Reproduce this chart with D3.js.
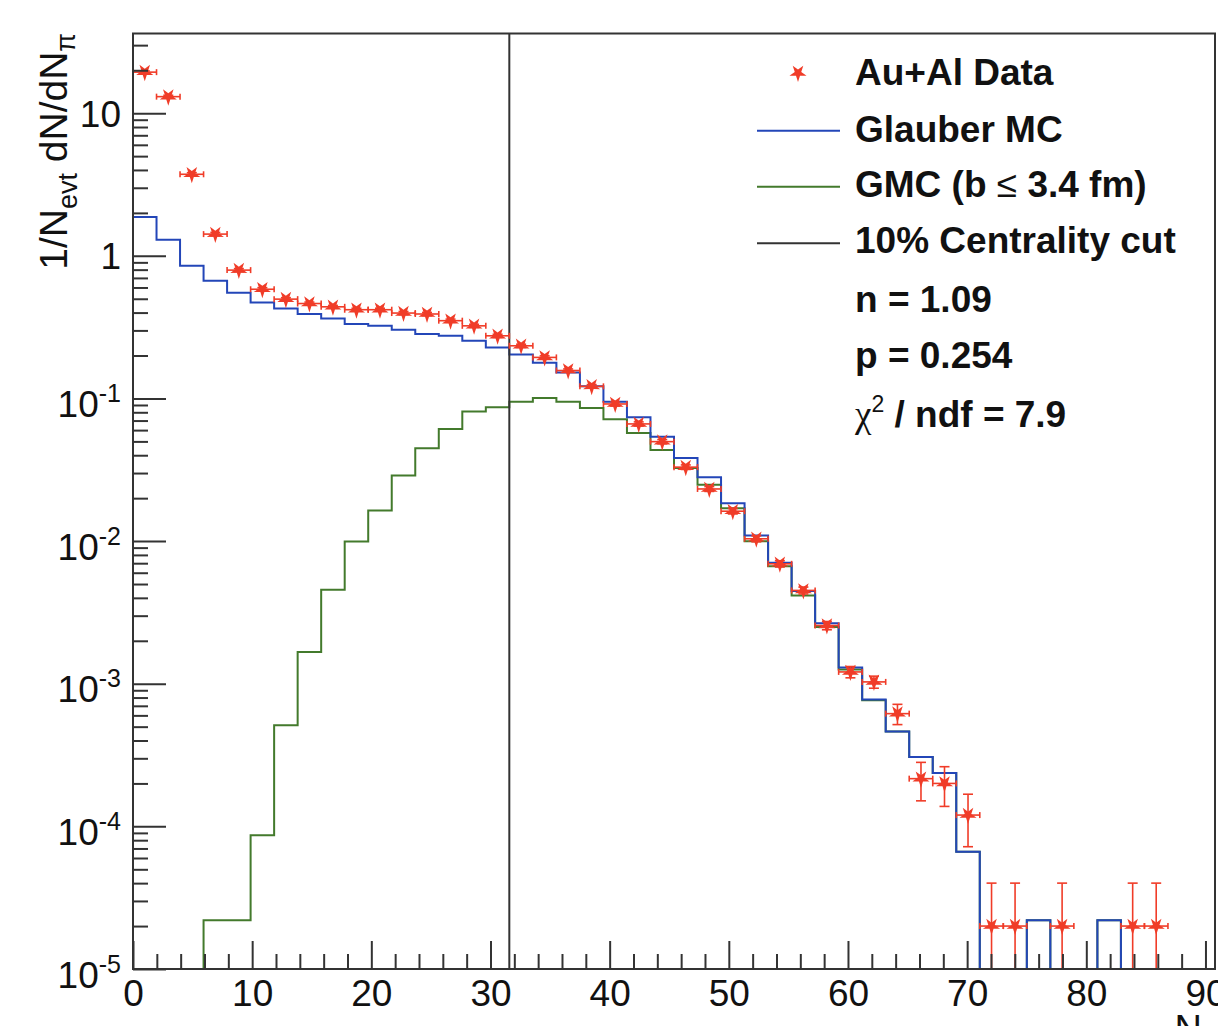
<!DOCTYPE html>
<html><head><meta charset="utf-8">
<script src="https://cdn.jsdelivr.net/npm/d3@7"></script>
<style>
body{margin:0;background:#fff;}
svg{display:block;}
text{font-family:"Liberation Sans",Arial,Helvetica,sans-serif;}
</style>
</head><body>
<svg id="chart" width="1218" height="1026"></svg>
<script>
// ---------------- data ----------------
const xDomain = [0, 90.8];
const nBins = 46;
const cutPosition = 31.58;               // 10% centrality cut (N_pi)
const glauberMC = [1.875, 1.294, 0.851, 0.668, 0.551, 0.471, 0.428, 0.391, 0.364, 0.333,
  0.323, 0.303, 0.283, 0.275, 0.254, 0.228, 0.203, 0.178, 0.152, 0.1216,
  0.0950, 0.0738, 0.0540, 0.0383, 0.0280, 0.0184, 0.01094, 0.00704, 0.00446, 0.00266,
  0.00130, 0.000774, 0.000462, 0.000307, 0.000237, 6.63e-5, 0, 0, 2.2e-5, 0,
  0, 2.2e-5, 0, 0, 0, 0];
const gmcCentral = [0, 0, 0, 2.2e-5, 2.2e-5, 8.68e-5, 5.11e-4, 1.67e-3, 4.56e-3, 9.93e-3,
  0.01637, 0.0288, 0.0447, 0.0611, 0.0809, 0.0867, 0.0950, 0.1008, 0.0950, 0.0858,
  0.0714, 0.0573, 0.0436, 0.0326, 0.0248, 0.0170, 0.00998, 0.00667, 0.00416, 0.00250,
  0.00126, 0.000765, 0.000462, 0.000307, 0.000237, 6.63e-5, 0, 0, 2.2e-5, 0,
  0, 2.2e-5, 0, 0, 0, 0];
const auAlData = [19.4, 13.06, 3.73, 1.42, 0.794, 0.583, 0.497, 0.463, 0.439, 0.419,
  0.419, 0.397, 0.391, 0.351, 0.323, 0.275, 0.234, 0.194, 0.157, 0.1216,
  0.0915, 0.0663, 0.0498, 0.0330, 0.0232, 0.0162, 0.01038, 0.00693, 0.00451, 0.00256,
  0.00121, 0.00103, 6.17e-4, 2.16e-4, 2.0e-4, 1.2e-4, 2e-5, 2e-5, 0, 2e-5,
  0, 0, 2e-5, 2e-5, 0, 0];
const auAlErr = [0.4, 0.3, 0.1, 0.04, 0.02, 0.015, 0.012, 0.011, 0.01, 0.01,
  0.01, 0.01, 0.01, 0.009, 0.008, 0.007, 0.006, 0.005, 0.004, 0.0035,
  0.003, 0.0022, 0.0017, 0.0012, 0.0009, 0.0007, 0.0005, 0.00035, 0.00025, 0.00017,
  0.00011, 0.0001, 0.0001, 6.5e-5, 6.2e-5, 4.8e-5, 2e-5, 2e-5, 0, 2e-5,
  0, 0, 2e-5, 2e-5, 0, 0];
const xTicks = [0, 10, 20, 30, 40, 50, 60, 70, 80, 90];
const xMinorTicks = [2,4,6,8,12,14,16,18,22,24,26,28,32,34,36,38,42,44,46,48,52,54,56,58,62,64,66,68,72,74,76,78,82,84,86,88];
const yTicks = [1e-5, 1e-4, 1e-3, 1e-2, 1e-1, 1, 10];
const yTickLabels = [["10","-5"],["10","-4"],["10","-3"],["10","-2"],["10","-1"],["1",""],["10",""]];
const legendEntries = ["Au+Al Data", "Glauber MC", "GMC (b \u2264 3.4 fm)", "10% Centrality cut"];
const fitParams = ["n = 1.09", "p = 0.254", "chi2"];

// ---------------- layout ----------------
const C_RED = "#f03c28", C_BLUE = "#2346b8", C_GREEN = "#437a2c", C_BLACK = "#333";
const svg = d3.select("#chart");
const x = d3.scaleLinear().domain(xDomain).range([133, 1215]);
const y = d3.scaleLog().domain([1e-5, 36.2]).range([969, 33.5]);
const binW = (xDomain[1] - xDomain[0]) / nBins;
const edges = d3.range(nBins + 1).map(i => xDomain[0] + i * binW);
const yv = v => v > 0 ? y(Math.max(v, 1e-5)) : y(1e-5);

function histPath(vals) {
  const pts = vals.map((v, i) => [edges[i], v]);
  pts.push([edges[nBins], vals[nBins - 1]]);
  return d3.line().x(d => x(d[0])).y(d => yv(d[1])).curve(d3.curveStepAfter)(pts);
}

// histograms
svg.append("path").attr("d", histPath(gmcCentral)).attr("fill", "none")
  .attr("stroke", C_GREEN).attr("stroke-width", 2);
svg.append("path").attr("d", histPath(glauberMC)).attr("fill", "none")
  .attr("stroke", C_BLUE).attr("stroke-width", 2);

// centrality cut line
svg.append("line").attr("x1", x(cutPosition)).attr("x2", x(cutPosition))
  .attr("y1", y(1e-5)).attr("y2", y(36.2)).attr("stroke", C_BLACK).attr("stroke-width", 2);

// star marker (inverted 5-point star)
function starPath(R, r) {
  const p = [];
  for (let k = 0; k < 10; k++) {
    const a = Math.PI + k * Math.PI / 5, rad = k % 2 === 0 ? R : r;
    p.push([rad * Math.sin(a), -rad * Math.cos(a)]);
  }
  return "M" + p.map(d => d[0].toFixed(2) + "," + d[1].toFixed(2)).join("L") + "Z";
}
const star = starPath(9, 3.4);

// data points
const gData = svg.append("g");
auAlData.forEach((v, i) => {
  if (!(v > 0)) return;
  const cx = x((edges[i] + edges[i + 1]) / 2), cy = y(v);
  const e = auAlErr[i];
  const g = gData.append("g").attr("stroke", C_RED).attr("stroke-width", 1.6);
  const xl = x(edges[i]), xr = x(edges[i + 1]);
  g.append("line").attr("x1", xl).attr("x2", xr).attr("y1", cy).attr("y2", cy);
  g.append("line").attr("x1", xl).attr("x2", xl).attr("y1", cy - 3).attr("y2", cy + 3);
  g.append("line").attr("x1", xr).attr("x2", xr).attr("y1", cy - 3).attr("y2", cy + 3);
  if (e > 0) {
    const yt = y(v + e), lowClamped = (v - e) <= 1e-5;
    const yb = lowClamped ? y(1e-5) : y(v - e);
    g.append("line").attr("x1", cx).attr("x2", cx).attr("y1", yt).attr("y2", yb);
    g.append("line").attr("x1", cx - 5).attr("x2", cx + 5).attr("y1", yt).attr("y2", yt);
    if (!lowClamped) g.append("line").attr("x1", cx - 5).attr("x2", cx + 5).attr("y1", yb).attr("y2", yb);
  }
  gData.append("path").attr("d", star).attr("transform", `translate(${cx},${cy})`)
    .attr("fill", C_RED).attr("stroke", "none");
});

// frame
svg.append("rect").attr("x", 133).attr("y", 33.5).attr("width", 1215 - 133).attr("height", 969 - 33.5)
  .attr("fill", "none").attr("stroke", C_BLACK).attr("stroke-width", 2);

// y axis
const yMinor = [];
for (let e = -5; e <= 1; e++) for (let k = 2; k <= 9; k++) { const t = k * Math.pow(10, e); if (t <= 36.2) yMinor.push(t); }
const yAxisMinor = svg.append("g").attr("transform", "translate(133,0)")
  .call(d3.axisLeft(y).tickValues(yMinor).tickSize(-15).tickFormat(""));
const yAxisMajor = svg.append("g").attr("transform", "translate(133,0)")
  .call(d3.axisLeft(y).tickValues(yTicks).tickSize(-33).tickPadding(12).tickFormat(""));
[yAxisMinor, yAxisMajor].forEach(g => {
  g.select(".domain").remove();
  g.selectAll("line").attr("stroke", C_BLACK).attr("stroke-width", 2);
});
yAxisMajor.selectAll(".tick text").each(function (d, i) {
  const t = d3.select(this).attr("dy", null).attr("font-size", 37)
    .attr("fill", "#111").attr("text-anchor", "end").attr("x", -12);
  const lab = yTickLabels[i];
  t.attr("y", lab[1] ? 18 : 13);
  t.append("tspan").text(lab[0]);
  if (lab[1]) t.append("tspan").attr("font-size", 25).attr("dy", -15).text(lab[1]);
});

// x axis
const xAxisMinor = svg.append("g").attr("transform", "translate(0,969)")
  .call(d3.axisBottom(x).tickValues(xMinorTicks).tickSize(-15).tickFormat(""));
const xAxisMajor = svg.append("g").attr("transform", "translate(0,969)")
  .call(d3.axisBottom(x).tickValues(xTicks).tickSize(-28).tickPadding(11).tickFormat(d3.format("d")));
[xAxisMinor, xAxisMajor].forEach(g => {
  g.select(".domain").remove();
  g.selectAll("line").attr("stroke", C_BLACK).attr("stroke-width", 2);
});
xAxisMajor.selectAll(".tick text").attr("font-size", 37).attr("fill", "#111")
  .attr("font-family", '"Liberation Sans",Arial,sans-serif');

// axis titles
const yt = svg.append("text").attr("transform", "translate(66.5,33) rotate(-90)")
  .attr("text-anchor", "end").attr("font-size", 39).attr("fill", "#111");
yt.append("tspan").text("1/N");
yt.append("tspan").attr("font-size", 27).attr("dy", 10).text("evt");
yt.append("tspan").attr("dy", -10).text(" dN/dN");
yt.append("tspan").attr("font-size", 27).attr("dy", 8).text("\u03c0");

const xt = svg.append("text").attr("x", 1220).attr("y", 1042).attr("text-anchor", "end")
  .attr("font-size", 38).attr("fill", "#111");
xt.append("tspan").text("N");
xt.append("tspan").attr("font-size", 26).attr("dy", 8).text("\u03c0");

// legend
const lg = svg.append("g");
lg.append("path").attr("d", star).attr("transform", "translate(798,73)").attr("fill", C_RED);
const lineY = [130.7, 186.7, 243.3], lineC = [C_BLUE, C_GREEN, C_BLACK];
lineY.forEach((ly, i) => lg.append("line").attr("x1", 757).attr("x2", 840).attr("y1", ly).attr("y2", ly)
  .attr("stroke", lineC[i]).attr("stroke-width", 2));
const baseY = [85, 142.3, 196.7, 253.3, 311.7, 368.3, 426.7];
const lt = (i) => lg.append("text").attr("x", 855).attr("y", baseY[i]).attr("font-size", 37)
  .attr("font-weight", "bold").attr("fill", "#111");
lt(0).text(legendEntries[0]);
lt(1).text(legendEntries[1]);
{
  const t = lt(2);
  t.append("tspan").text("GMC (b ");
  t.append("tspan").attr("font-weight", "normal").text("\u2264");
  t.append("tspan").text(" 3.4 fm)");
}
lt(3).text(legendEntries[3]);
lt(4).text(fitParams[0]);
lt(5).text(fitParams[1]);
{
  const t = lt(6);
  t.append("tspan").attr("font-weight", "normal").attr("font-family", '"Liberation Serif",serif').text("\u03c7");
  t.append("tspan").attr("font-size", 23).attr("dy", -15).attr("font-weight", "normal").text("2");
  t.append("tspan").attr("dy", 15).text(" / ndf = 7.9");
}
</script>
</body></html>
